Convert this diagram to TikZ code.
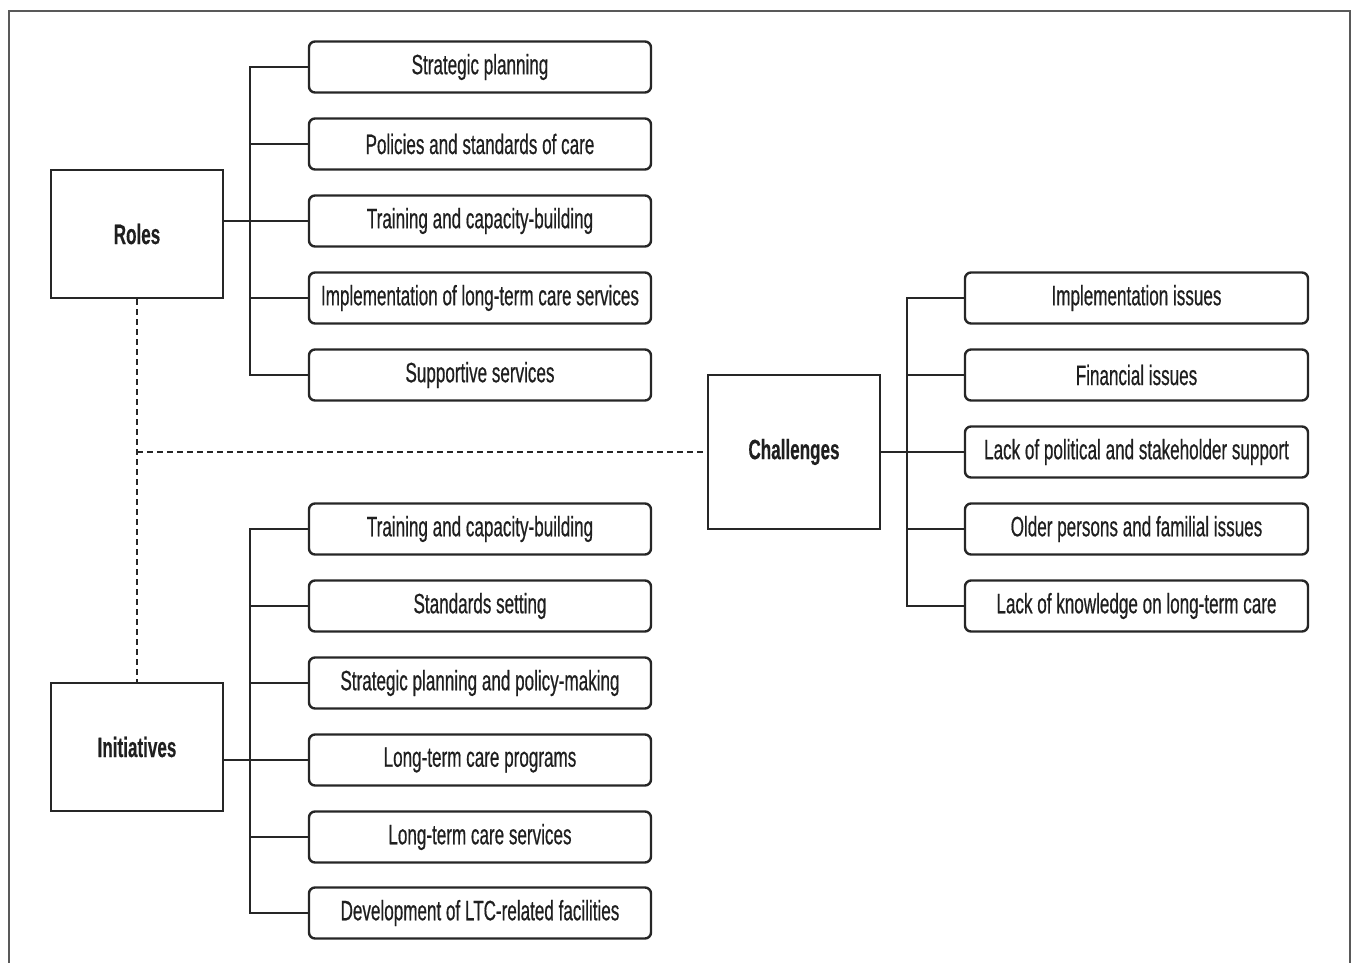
\documentclass[tikz,border=0pt]{standalone}
\usepackage{fontspec}
\setmainfont{Liberation Sans}[FakeStretch=0.61, FakeBold=0.5, BoldFont={* Bold}, BoldFeatures={FakeBold=0.3}]
\begin{document}
\begin{tikzpicture}[x=1pt,y=-1pt,
  txt/.style={font=\fontsize{28}{32}\selectfont, text=black!88},
  item/.style={txt, draw=black!85, line width=2.4pt, rounded corners=6pt,
    minimum width=342pt, minimum height=51pt, inner sep=0pt, anchor=center},
  mainbox/.style={draw=black!85, line width=2.4pt, minimum width=172pt, inner sep=0pt},
  conn/.style={draw=black!85, line width=2.4pt},
  dashlink/.style={draw=black!85, line width=1.8pt, dash pattern=on 6pt off 4pt}
]
\useasboundingbox (0,0) rectangle (1351,962);
% outer frame (open at the bottom)
\draw[black!65, line width=1.5pt] (9,970) -- (9,11) -- (1350,11) -- (1350,970);

% main boxes
\node[mainbox, minimum height=128pt] (roles) at (137,234) {};
\node[txt, font=\fontsize{28}{32}\selectfont\bfseries] (rolest) at (roles.center) {Roles};
\node[mainbox, minimum height=128pt] (init) at (137,747) {};
\node[txt, font=\fontsize{28}{32}\selectfont\bfseries] (initt) at (init.center) {Initiatives};
\node[mainbox, minimum height=154pt] (chal) at (794,452) {};
\node[txt, font=\fontsize{28}{32}\selectfont\bfseries] (chalt) at (chal.center) {Challenges};

% roles items
\node[item] (r1) at (480,67) {Strategic planning};
\node[item] (r2) at (480,144) {Policies and standards of care};
\node[item] (r3) at (480,221) {Training and capacity-building};
\node[item] (r4) at (480,298) {Implementation of long-term care services};
\node[item] (r5) at (480,375) {Supportive services};

% initiatives items
\node[item] (i1) at (480,529) {Training and capacity-building};
\node[item] (i2) at (480,606) {Standards setting};
\node[item] (i3) at (480,683) {Strategic planning and policy-making};
\node[item] (i4) at (480,760) {Long-term care programs};
\node[item] (i5) at (480,837) {Long-term care services};
\node[item] (i6) at (480,913) {Development of LTC-related facilities};

% challenges items
\node[item, minimum width=343pt] (c1) at (1136.5,298) {Implementation issues};
\node[item, minimum width=343pt] (c2) at (1136.5,375) {Financial issues};
\node[item, minimum width=343pt] (c3) at (1136.5,452) {Lack of political and stakeholder support};
\node[item, minimum width=343pt] (c4) at (1136.5,529) {Older persons and familial issues};
\node[item, minimum width=343pt] (c5) at (1136.5,606) {Lack of knowledge on long-term care};

% roles connectors
\draw[conn] (r1.west) -- ++(-58,0) |- (r5.west);
\foreach \n in {r2,r3,r4} \draw[conn] (\n.west) -- ++(-58,0);
\draw[conn] (roles.east |- r3.west) -- (r3.west);

% initiatives connectors
\draw[conn] (i1.west) -- ++(-58,0) |- (i6.west);
\foreach \n in {i2,i3,i4,i5} \draw[conn] (\n.west) -- ++(-58,0);
\draw[conn] (init.east |- i4.west) -- (i4.west);

% challenges connectors
\draw[conn] (c1.west) -- ++(-57,0) |- (c5.west);
\foreach \n in {c2,c3,c4} \draw[conn] (\n.west) -- ++(-57,0);
\draw[conn] (chal.east) -- (c3.west);

% dashed links
\draw[dashlink] (roles.south) -- (init.north);
\draw[dashlink] (roles.south |- chal.west) -- (chal.west);
\end{tikzpicture}
\end{document}
